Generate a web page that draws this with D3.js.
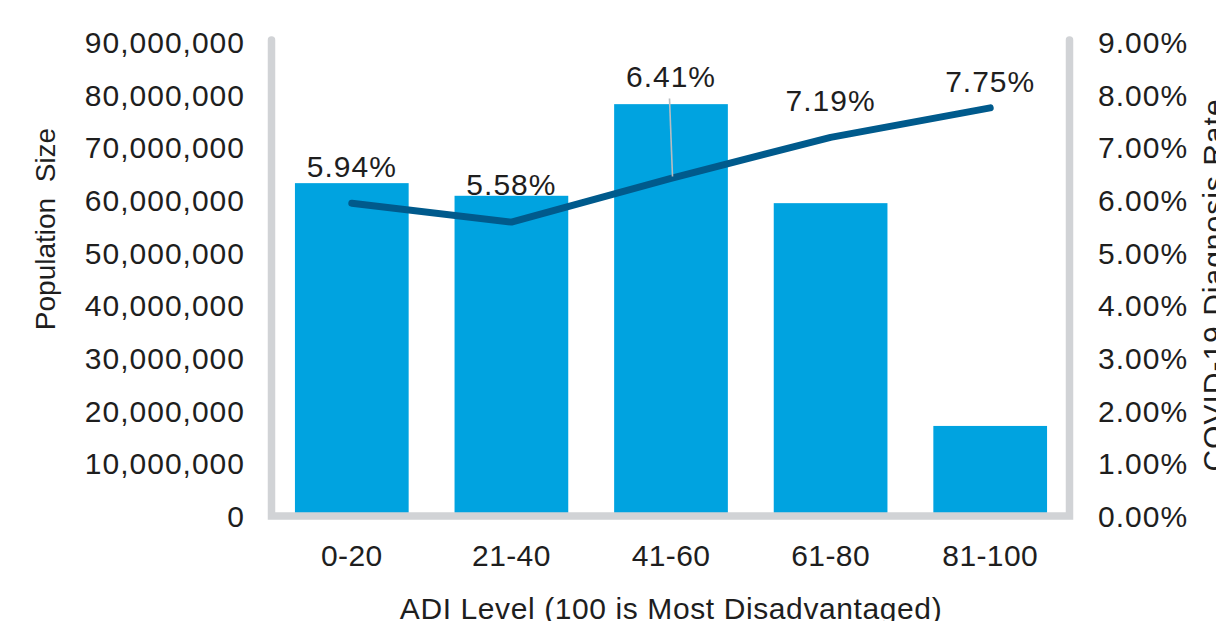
<!DOCTYPE html>
<html><head><meta charset="utf-8">
<script src="https://cdn.jsdelivr.net/npm/d3@7"></script>
<style>
body{margin:0;background:#fff;overflow:hidden}
text{font-family:"Liberation Sans",Arial,sans-serif;fill:#1e1e1e}
</style>
</head><body>
<svg id="chart" width="1216" height="621"></svg>
<script>
// ---- data ----
const categories = ["0-20", "21-40", "41-60", "61-80", "81-100"];
const populationValues = [63200000, 60800000, 78200000, 59400000, 17100000];
const diagnosisRates = [5.94, 5.58, 6.41, 7.19, 7.75];
const rateLabels = ["5.94%", "5.58%", "6.41%", "7.19%", "7.75%"];
const leftTicks = [0, 10000000, 20000000, 30000000, 40000000, 50000000, 60000000, 70000000, 80000000, 90000000];
const rightTicks = [0, 1, 2, 3, 4, 5, 6, 7, 8, 9];
const xTitle = "ADI Level (100 is Most Disadvantaged)";
const leftTitle = "Population\u00a0\u00a0Size";
const rightTitle = "COVID-19 Diagnosis Rate";

// ---- layout / style ----
const labelLift = [26, 27, 91, 26, 16];
const barColor = "#00A3E0";
const lineColor = "#005A8C";
const frameColor = "#D1D3D6";

const svg = d3.select("#chart");
const x = d3.scaleBand().domain(categories).range([272, 1070]).paddingInner(0.2875).paddingOuter(0.14375);
const y = d3.scaleLinear().domain([0, 90000000]).range([516, 42]);
const y2 = d3.scaleLinear().domain([0, 9]).range([516, 42]);

// bars
svg.append("g").selectAll("rect").data(categories).join("rect")
  .attr("x", d => x(d))
  .attr("width", x.bandwidth())
  .attr("y", (d, i) => y(populationValues[i]))
  .attr("height", (d, i) => y(0) - y(populationValues[i]))
  .attr("fill", barColor);

// frame (axis lines)
const fx0 = x.range()[0] - 0.5, fx1 = x.range()[1] - 0.5, ftop = y(90000000) - 2;
svg.append("path")
  .attr("d", `M${fx0},${ftop}V${y(0)}H${fx1}V${ftop}`)
  .attr("fill", "none").attr("stroke", frameColor)
  .attr("stroke-width", 7.5).attr("stroke-linecap", "round").attr("stroke-linejoin", "miter");

// left axis
const leftAxis = d3.axisLeft(y).tickValues(leftTicks).tickSize(0).tickPadding(0)
  .tickFormat(d3.format(",.0f"));
const gl = svg.append("g").attr("transform", "translate(245,0)").call(leftAxis);
gl.select(".domain").remove();
gl.selectAll("text").attr("font-size", 30).attr("letter-spacing", "1px")
  .attr("font-family", null).attr("fill", "#1e1e1e").attr("dy", "0.35em");
gl.attr("font-family", null);

// right axis
const rightAxis = d3.axisRight(y2).tickValues(rightTicks).tickSize(0).tickPadding(0)
  .tickFormat(d => d3.format(".2f")(d) + "%");
const gr = svg.append("g").attr("transform", "translate(1098,0)").call(rightAxis);
gr.select(".domain").remove();
gr.selectAll("text").attr("font-size", 30).attr("letter-spacing", "1px")
  .attr("fill", "#1e1e1e").attr("dy", "0.35em");
gr.attr("font-family", null);

// bottom axis
const bottomAxis = d3.axisBottom(x).tickSize(0).tickPadding(0);
const gb = svg.append("g").attr("transform", "translate(0,566)").call(bottomAxis);
gb.select(".domain").remove();
gb.selectAll("text").attr("font-size", 30).attr("letter-spacing", "0.4px")
  .attr("fill", "#1e1e1e").attr("dy", 0).attr("y", 0);
gb.attr("font-family", null);

// line
const cx = d => x(d) + x.bandwidth() / 2;
const line = d3.line().x((d, i) => cx(categories[i])).y(d => y2(d));
svg.append("path").datum(diagnosisRates)
  .attr("d", line)
  .attr("fill", "none").attr("stroke", lineColor)
  .attr("stroke-width", 7).attr("stroke-linecap", "round").attr("stroke-linejoin", "round");

// leader line for moved label (41-60)
const li = 2;
svg.append("line")
  .attr("x1", cx(categories[li]) - 1.5).attr("y1", y2(diagnosisRates[li]) - labelLift[li] + 11)
  .attr("x2", cx(categories[li]) + 1.5).attr("y2", y2(diagnosisRates[li]) - 2)
  .attr("stroke", "#B8BCC0").attr("stroke-width", 1.6);

// data labels
svg.append("g").selectAll("text").data(rateLabels).join("text")
  .attr("x", (d, i) => cx(categories[i]))
  .attr("y", (d, i) => y2(diagnosisRates[i]) - labelLift[i])
  .attr("text-anchor", "middle").attr("font-size", 30).attr("letter-spacing", "1px")
  .text(d => d);

// titles
svg.append("text").attr("x", 671).attr("y", 619).attr("text-anchor", "middle")
  .attr("font-size", 30).attr("letter-spacing", "0.6px").text(xTitle);
svg.append("text").attr("transform", "translate(55,229) rotate(-90)")
  .attr("text-anchor", "middle").attr("font-size", 28).text(leftTitle);
svg.append("text").attr("transform", "translate(1224,285) rotate(-90)")
  .attr("text-anchor", "middle").attr("font-size", 30).attr("letter-spacing", "1px").text(rightTitle);
</script>
</body></html>
